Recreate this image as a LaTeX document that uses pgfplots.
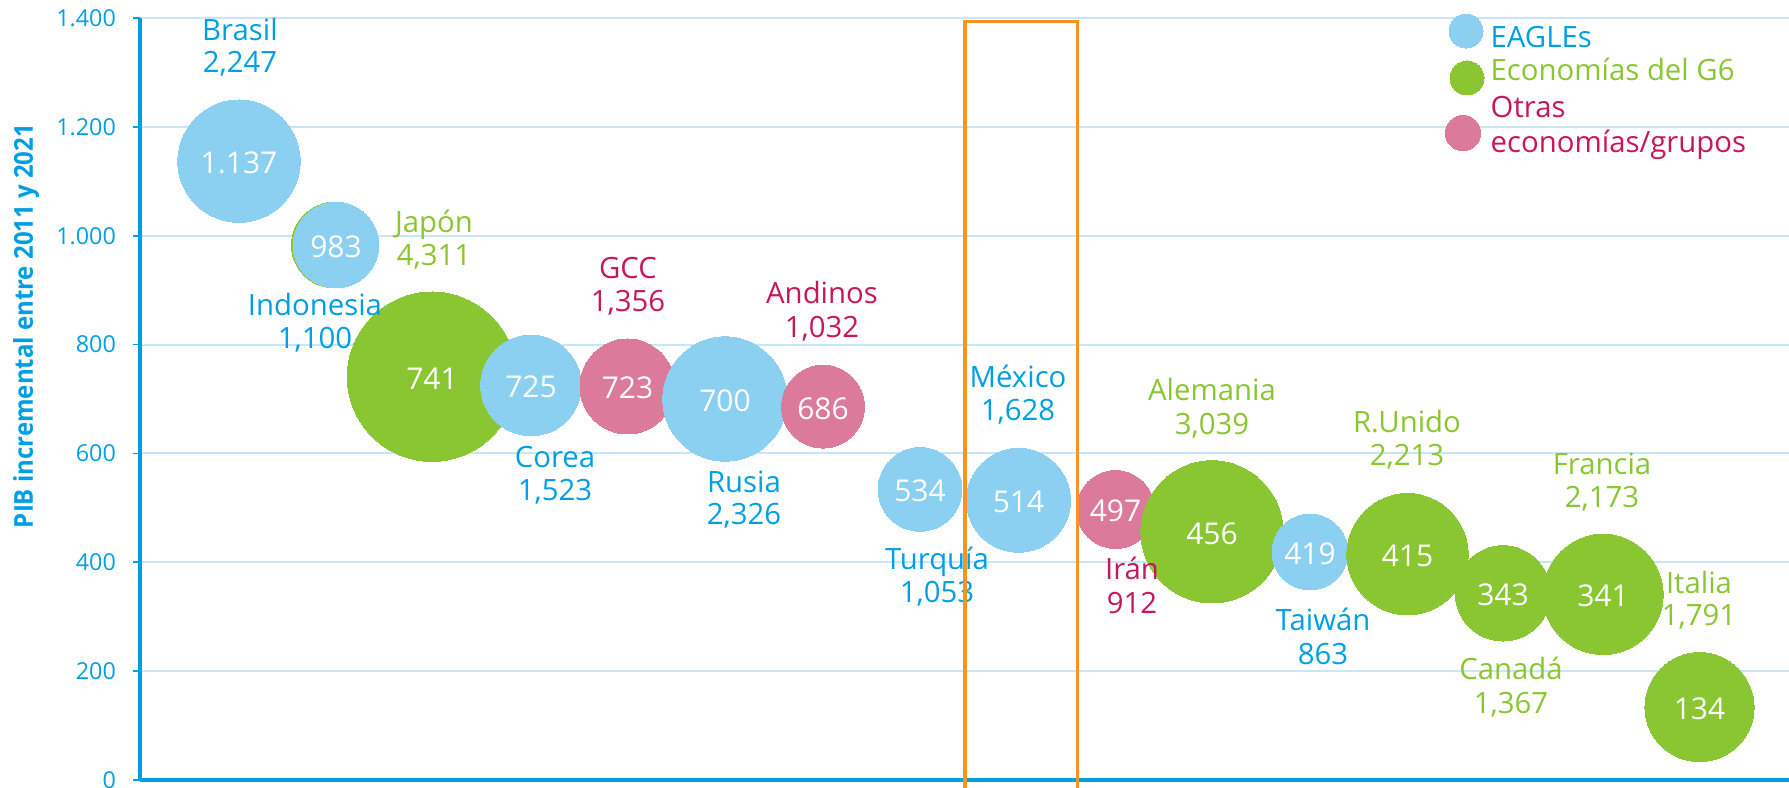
\documentclass[border=0pt]{standalone}
\usepackage{fontspec}
\setmainfont{Open Sans}
\usepackage{graphicx}
\usepackage{pgfplots}
\pgfplotsset{compat=1.18}
\definecolor{axblue}{RGB}{0,159,227}
\definecolor{bblue}{RGB}{139,208,241}
\definecolor{bgreen}{RGB}{137,198,49}
\definecolor{bpink}{RGB}{219,122,154}
\definecolor{tgreen}{RGB}{137,198,49}
\definecolor{tred}{RGB}{200,22,92}
\definecolor{gridc}{RGB}{197,231,247}
\definecolor{orng}{RGB}{247,148,29}
\newcommand{\lblfont}{\fontsize{8.8}{10}\selectfont}
% label: x, baseline1(px), baseline2(px), colour, name, value
\newcommand{\lab}[6]{%
 \node[anchor=base,inner sep=0pt,text=#4,font=\lblfont] at (axis cs:#1,{(780-#2)*1.83727}) {#5};
 \node[anchor=base,inner sep=0pt,text=#4,font=\lblfont] at (axis cs:#1,{(780-#3)*1.83727}) {#6};}
% bubble: x, y, radius(pt), colour
\newcommand{\bub}[4]{%
 \addplot[only marks, mark=*, mark size=#3pt, color=#4, mark options={solid, line width=0pt, fill=#4}] coordinates {(#1,#2)};}
% number inside bubble
\newcommand{\num}[3]{%
 \node[text=white,inner sep=0pt,font=\fontsize{9}{10}\selectfont,yshift=-0.5pt] at (axis cs:#1,#2) {#3};}
\begin{document}
\begin{tikzpicture}
\begin{axis}[
 set layers,
 scale only axis, width=494.7pt, height=228.6pt,
 xmin=140, xmax=1789, ymin=0, ymax=1400,
 clip=false,
 axis x line*=bottom, axis y line*=left,
 axis line style={draw=axblue, line width=1.1pt},
 xtick=\empty,
 ytick={0,200,400,600,800,1000,1200,1400},
 ymajorgrids, major grid style={draw=gridc, line width=0.6pt},
 tick align=outside, major tick length=2.2pt,
 ytick style={draw=axblue, line width=0.5pt},
 yticklabel style={font=\fontsize{7}{8}\selectfont, text=axblue, xshift=-1.5pt},
 /pgf/number format/1000 sep={.},
 /pgf/number format/assume math mode=true,
]
% bubbles, left to right
\bub{239}{1137}{18.35}{bblue}
\addplot[only marks, mark=*, mark size=12.84pt, color=bgreen, mark options={solid, line width=0pt, fill=bgreen}] coordinates {(334.3,983)};
\bub{336}{983}{12.84}{bblue}
\bub{432}{741}{25.41}{bgreen}
\bub{531}{725}{15.10}{bblue}
\bub{627.5}{723}{14.25}{bpink}
\bub{725}{700}{18.66}{bblue}
\bub{823}{686}{12.43}{bpink}
\bub{920}{534}{12.56}{bblue}
\bub{1018.5}{514}{15.61}{bblue}
\bub{1115.5}{497}{11.69}{bpink}
\bub{1212}{456}{21.33}{bgreen}
\bub{1310}{419}{11.37}{bblue}
\bub{1407.5}{415}{18.20}{bgreen}
\bub{1503}{343}{14.31}{bgreen}
\bub{1603}{341}{18.04}{bgreen}
\bub{1699.5}{134}{16.38}{bgreen}
% legend markers
\addplot[only marks, mark=*, mark size=5.1pt, color=bblue, mark options={solid, line width=0pt, fill=bblue}] coordinates {(1466,1376.1)};
\addplot[only marks, mark=*, mark size=5.1pt, color=bgreen, mark options={solid, line width=0pt, fill=bgreen}] coordinates {(1467,1289.8)};
\addplot[only marks, mark=*, mark size=5.3pt, color=bpink, mark options={solid, line width=0pt, fill=bpink}] coordinates {(1463,1188.7)};
\begin{pgfonlayer}{axis descriptions}
\num{239}{1137}{1.137}
\num{336}{983}{983}
\num{432}{741}{741}
\num{531}{725}{725}
\num{627.5}{723}{723}
\num{725}{700}{700}
\num{823}{686}{686}
\num{920}{534}{534}
\num{1018.5}{514}{514}
\num{1115.5}{497}{497}
\num{1212}{456}{456}
\num{1310}{419}{419}
\num{1407.5}{415}{415}
\num{1503}{343}{343}
\num{1603}{341}{341}
\num{1699.5}{134}{134}
% labels
\lab{240}{40}{72}{axblue}{Brasil}{2,247}
\lab{315}{315}{348}{axblue}{Indonesia}{1,100}
\lab{434}{232}{265}{tgreen}{Japón}{4,311}
\lab{555}{467}{500}{axblue}{Corea}{1,523}
\lab{628}{278}{311}{tred}{GCC}{1,356}
\lab{744}{492}{524}{axblue}{Rusia}{2,326}
\lab{822}{303}{337}{tred}{Andinos}{1,032}
\lab{937}{569}{602}{axblue}{Turquía}{1,053}
\lab{1018}{387}{420}{axblue}{México}{1,628}
\lab{1132}{579}{613}{tred}{Irán}{912}
\lab{1212}{400}{434}{tgreen}{Alemania}{3,039}
\lab{1323}{630}{664}{axblue}{Taiwán}{863}
\lab{1407}{432}{465}{tgreen}{R.Unido}{2,213}
\lab{1511}{679}{713}{tgreen}{Canadá}{1,367}
\lab{1602}{474}{507}{tgreen}{Francia}{2,173}
\lab{1699}{593}{625}{tgreen}{Italia}{1,791}
% legend texts
\node[anchor=base west,inner sep=0pt,text=axblue,font=\lblfont] at (axis cs:1490,{(780-47)*1.83727}) {EAGLEs};
\node[anchor=base west,inner sep=0pt,text=tgreen,font=\lblfont] at (axis cs:1490,{(780-80)*1.83727}) {Economías del G6};
\node[anchor=base west,inner sep=0pt,text=tred,font=\lblfont] at (axis cs:1490,{(780-117)*1.83727}) {Otras};
\node[anchor=base west,inner sep=0pt,text=tred,font=\lblfont] at (axis cs:1490,{(780-152)*1.83727}) {economías/grupos};
% y label
\node[rotate=90,anchor=base,inner sep=0pt,text=axblue,font=\bfseries\fontsize{7.8}{9}\selectfont] at (axis cs:33,{(780-326)*1.83727}) {\resizebox{121.2pt}{\height}{PIB incremental entre 2011 y 2021}};
\end{pgfonlayer}
% highlight box
\addplot[orng, line width=1pt, on layer=axis foreground] coordinates {(965,-20) (965,1393) (1077.3,1393) (1077.3,-20)};
\coordinate (bbA) at (axis cs:0,-12.86);
\coordinate (bbB) at (axis cs:1789,1433.07);
\end{axis}
\pgfresetboundingbox
\useasboundingbox (bbA) rectangle (bbB);
\end{tikzpicture}
\end{document}
